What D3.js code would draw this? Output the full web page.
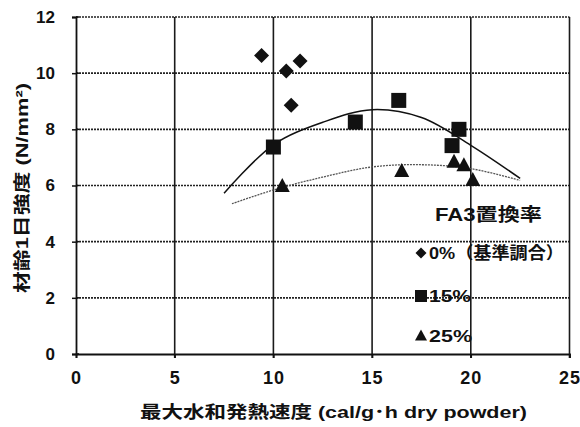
<!DOCTYPE html>
<html><head><meta charset="utf-8">
<script src="https://cdn.jsdelivr.net/npm/d3@7"></script>
<style>body{margin:0;background:#fff}</style>
</head><body>
<svg id="c" width="580" height="427"></svg>
<script>
// ---- data ----
const xTicks = [0, 5, 10, 15, 20, 25];
const yTicks = [0, 2, 4, 6, 8, 10, 12];
const s0X = [9.4, 10.65, 11.35, 10.9];
const s0Y = [10.63, 10.08, 10.43, 8.86];
const s15X = [10.0, 14.15, 16.35, 19.4, 19.05];
const s15Y = [7.37, 8.26, 9.03, 8.0, 7.42];
const s25X = [10.45, 16.5, 19.15, 19.65, 20.1];
const s25Y = [5.97, 6.5, 6.83, 6.71, 6.18];
const fit15X = [7.5, 10, 12.5, 15, 17.5, 20, 22.5];
const fit15Y = [5.72, 7.45, 8.25, 8.7, 8.42, 7.43, 6.25];
const fit25X = [7.9, 10, 12.5, 15, 17.5, 20, 22.5];
const fit25Y = [5.35, 5.84, 6.3, 6.66, 6.74, 6.6, 6.18];
const legendTitle = "FA3置換率";
const legendLabels = ["0%（基準調合）", "15%", "25%"];
const xTitle = "最大水和発熱速度 (cal/g･h dry powder)";
const yTitle = "材齢1日強度 (N/mm²)";

// ---- layout ----
const svg = d3.select("#c");
const L = 76, R = 569.5, T = 17, B = 354;
const x = d3.scaleLinear().domain([0, 25]).range([L, R]);
const y = d3.scaleLinear().domain([0, 12]).range([B, T]);
const font = "'Liberation Sans', Arial, 'Noto Sans CJK JP', sans-serif";
const ink = "#111";

// horizontal gridlines (dotted)
svg.append("g").selectAll("line").data(yTicks.filter(d => d > 0 && d < 12)).join("line")
  .attr("x1", L).attr("x2", R).attr("y1", d => y(d)).attr("y2", d => y(d))
  .attr("stroke", "#222").attr("stroke-width", 1.6).attr("stroke-dasharray", "2,1");
// top border
svg.append("line").attr("x1", L).attr("x2", R).attr("y1", T).attr("y2", T)
  .attr("stroke", "#222").attr("stroke-width", 1.6).attr("stroke-dasharray", "2,1");
// vertical gridlines
svg.append("g").selectAll("line").data(xTicks.filter(d => d > 0)).join("line")
  .attr("x1", d => x(d)).attr("x2", d => x(d)).attr("y1", T).attr("y2", B + 4)
  .attr("stroke", "#1a1a1a").attr("stroke-width", 1.6);

// axes
const yAxis = svg.append("g").attr("transform", `translate(${L},0)`)
  .call(d3.axisLeft(y).tickValues(yTicks).tickSize(4).tickPadding(17));
const xAxis = svg.append("g").attr("transform", `translate(0,${B})`)
  .call(d3.axisBottom(x).tickValues(xTicks).tickSize(4).tickPadding(13));
[yAxis, xAxis].forEach(a => {
  a.select(".domain").attr("stroke", ink).attr("stroke-width", 1.8);
  a.selectAll(".tick line").attr("stroke", ink).attr("stroke-width", 1.5);
  a.selectAll(".tick text").attr("fill", ink).attr("font-family", font)
    .attr("font-size", 17).attr("font-weight", "bold");
});
xAxis.selectAll(".tick text").attr("font-size", 18).attr("letter-spacing", 1);
// inner tick stubs on y axis
svg.append("g").selectAll("line").data(yTicks).join("line")
  .attr("x1", L).attr("x2", L + 3).attr("y1", d => y(d)).attr("y2", d => y(d))
  .attr("stroke", ink).attr("stroke-width", 1.5);

// fit curves
const line = d3.line().x(d => x(d[0])).y(d => y(d[1])).curve(d3.curveCatmullRom);
svg.append("path").datum(fit15X.map((v, i) => [v, fit15Y[i]])).attr("d", line)
  .attr("fill", "none").attr("stroke", "#111").attr("stroke-width", 1.5);
svg.append("path").datum(fit25X.map((v, i) => [v, fit25Y[i]])).attr("d", line)
  .attr("fill", "none").attr("stroke", "#555").attr("stroke-width", 1.3)
  .attr("stroke-dasharray", "2,1");

// markers
const diamond = (s) => `M0,${-s}L${s},0L0,${s}L${-s},0Z`;
svg.append("g").selectAll("path").data(s0X.map((v, i) => [v, s0Y[i]])).join("path")
  .attr("d", diamond(7.5)).attr("transform", d => `translate(${x(d[0])},${y(d[1])})`).attr("fill", ink);
svg.append("g").selectAll("rect").data(s15X.map((v, i) => [v, s15Y[i]])).join("rect")
  .attr("x", d => x(d[0]) - 7.5).attr("y", d => y(d[1]) - 7.5).attr("width", 15).attr("height", 15).attr("fill", ink);
const tri = (w, h) => `M0,${-h * 0.6}L${w / 2},${h * 0.4}L${-w / 2},${h * 0.4}Z`;
svg.append("g").selectAll("path").data(s25X.map((v, i) => [v, s25Y[i]])).join("path")
  .attr("d", tri(15, 14)).attr("transform", d => `translate(${x(d[0])},${y(d[1])})`).attr("fill", ink);

// legend
svg.append("text").attr("x", 435).attr("y", 221).text(legendTitle)
  .attr("textLength", 107).attr("lengthAdjust", "spacingAndGlyphs")
  .attr("font-family", font).attr("font-size", 18).attr("font-weight", "bold").attr("fill", ink);
const lg = [[253, "d", 135], [296, "s", 42], [336, "t", 43]];
lg.forEach((l, i) => {
  const cy = l[0];
  if (l[1] === "d") svg.append("path").attr("d", diamond(5.5)).attr("transform", `translate(421,${cy})`).attr("fill", ink);
  if (l[1] === "s") svg.append("rect").attr("x", 415).attr("y", cy - 6).attr("width", 12).attr("height", 12).attr("fill", ink);
  if (l[1] === "t") svg.append("path").attr("d", tri(12, 11)).attr("transform", `translate(421,${cy})`).attr("fill", ink);
  svg.append("text").attr("x", 429).attr("y", cy + 6).text(legendLabels[i])
    .attr("textLength", l[2]).attr("lengthAdjust", "spacingAndGlyphs")
    .attr("font-family", font).attr("font-size", 17).attr("font-weight", "bold").attr("fill", ink);
});

// axis titles
svg.append("text").attr("x", 140).attr("y", 418).text(xTitle)
  .attr("textLength", 387).attr("lengthAdjust", "spacingAndGlyphs")
  .attr("font-family", font).attr("font-size", 17).attr("font-weight", "bold").attr("fill", ink);
svg.append("text").attr("transform", "translate(28,293) rotate(-90)").text(yTitle)
  .attr("textLength", 210).attr("lengthAdjust", "spacingAndGlyphs")
  .attr("font-family", font).attr("font-size", 17).attr("font-weight", "bold").attr("fill", ink);
</script>
</body></html>
